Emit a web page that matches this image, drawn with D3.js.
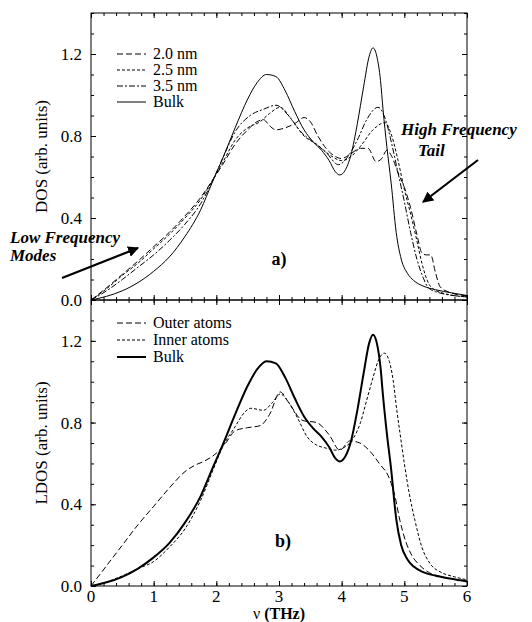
<!DOCTYPE html>
<html>
<head>
<meta charset="utf-8">
<script src="https://cdn.jsdelivr.net/npm/d3@7"></script>
<style>
  body { margin: 0; background: #fff; }
  svg { display: block; font-family: "Liberation Serif", "DejaVu Serif", serif; }
</style>
</head>
<body>
<script>
// frequency (THz) / density pairs
var bulk = [[0,0],[0.25,0.018],[0.5,0.045],[0.75,0.085],[1,0.14],[1.25,0.21],[1.5,0.31],[1.75,0.44],
  [1.93,0.57],[2.1,0.69],[2.3,0.84],[2.5,0.98],[2.65,1.06],[2.8,1.1],[2.95,1.09],[3.1,1.02],[3.25,0.92],
  [3.4,0.83],[3.55,0.77],[3.68,0.73],[3.8,0.68],[3.9,0.625],[3.97,0.61],[4.05,0.63],[4.15,0.71],
  [4.25,0.86],[4.35,1.04],[4.44,1.19],[4.5,1.23],[4.56,1.19],[4.62,1.07],[4.66,0.93],[4.72,0.75],
  [4.79,0.57],[4.87,0.33],[4.95,0.2],[5.05,0.13],[5.15,0.095],[5.3,0.068],[5.5,0.05],[5.75,0.035],[6,0.022]];

var dos20 = [[0,0],[0.25,0.06],[0.5,0.125],[0.75,0.19],[1,0.26],[1.25,0.33],[1.5,0.41],[1.75,0.5],
  [1.93,0.58],[2.1,0.66],[2.3,0.76],[2.5,0.83],[2.65,0.87],[2.75,0.88],[2.85,0.85],[2.95,0.83],
  [3.1,0.84],[3.25,0.86],[3.4,0.89],[3.5,0.87],[3.62,0.8],[3.75,0.74],[3.9,0.7],[4.0,0.69],[4.13,0.71],
  [4.3,0.74],[4.42,0.74],[4.55,0.675],[4.64,0.69],[4.72,0.73],[4.8,0.7],[4.9,0.62],[5.0,0.55],
  [5.1,0.45],[5.2,0.32],[5.28,0.23],[5.35,0.22],[5.42,0.22],[5.5,0.13],[5.57,0.065],[5.7,0.04],[6,0.02]];

var dos25 = [[0,0],[0.25,0.055],[0.5,0.12],[0.75,0.18],[1,0.25],[1.25,0.32],[1.5,0.4],[1.75,0.49],
  [1.93,0.58],[2.1,0.67],[2.3,0.78],[2.5,0.84],[2.7,0.87],[2.85,0.91],[3.02,0.94],[3.2,0.88],[3.4,0.8],
  [3.6,0.76],[3.8,0.71],[4.0,0.68],[4.15,0.7],[4.3,0.75],[4.5,0.83],[4.69,0.865],[4.8,0.8],[4.9,0.68],
  [5.0,0.54],[5.1,0.42],[5.2,0.29],[5.28,0.18],[5.36,0.1],[5.42,0.065],[5.6,0.035],[6,0.015]];

var dos35 = [[0,0],[0.25,0.045],[0.5,0.1],[0.75,0.16],[1,0.22],[1.25,0.29],[1.5,0.37],[1.75,0.47],
  [1.93,0.575],[2.1,0.69],[2.3,0.82],[2.54,0.9],[2.75,0.93],[2.95,0.95],[3.15,0.9],[3.35,0.82],
  [3.55,0.77],[3.75,0.72],[3.95,0.66],[4.1,0.7],[4.25,0.78],[4.4,0.88],[4.58,0.94],[4.7,0.88],
  [4.8,0.76],[4.9,0.62],[5.0,0.48],[5.1,0.33],[5.2,0.2],[5.3,0.11],[5.37,0.065],[5.5,0.04],[6,0.015]];

var outer = [[0,0],[0.25,0.1],[0.5,0.2],[0.75,0.3],[1,0.39],[1.25,0.48],[1.5,0.56],[1.65,0.59],
  [1.8,0.61],[2.0,0.65],[2.15,0.7],[2.3,0.76],[2.5,0.775],[2.7,0.785],[2.85,0.84],[3.02,0.95],
  [3.15,0.9],[3.38,0.81],[3.6,0.8],[3.8,0.74],[3.97,0.665],[4.13,0.71],[4.29,0.7],[4.45,0.66],
  [4.6,0.6],[4.77,0.52],[4.85,0.44],[4.93,0.32],[5.02,0.22],[5.12,0.15],[5.25,0.1],[5.4,0.065],
  [5.6,0.045],[6,0.025]];

var inner = [[0,0],[0.25,0.02],[0.5,0.05],[0.75,0.085],[1,0.12],[1.25,0.19],[1.5,0.28],[1.75,0.42],
  [1.95,0.57],[2.1,0.68],[2.3,0.78],[2.45,0.85],[2.55,0.87],[2.75,0.86],[2.9,0.9],[3.02,0.94],
  [3.15,0.9],[3.3,0.82],[3.45,0.73],[3.6,0.69],[3.75,0.675],[3.9,0.665],[4.05,0.68],[4.18,0.72],
  [4.3,0.8],[4.4,0.91],[4.5,1.02],[4.58,1.1],[4.68,1.14],[4.76,1.1],[4.82,1.01],[4.88,0.86],
  [4.93,0.75],[5.0,0.6],[5.08,0.45],[5.17,0.32],[5.28,0.19],[5.41,0.11],[5.6,0.065],[5.8,0.045],[6,0.03]];

var xTicks = [0, 1, 2, 3, 4, 5, 6];
var yTicks = [0, 0.4, 0.8, 1.2];
var legendA = ["2.0 nm", "2.5 nm", "3.5 nm", "Bulk"];
var legendB = ["Outer atoms", "Inner atoms", "Bulk"];

var width = 532, height = 622;
var svg = d3.select("body").append("svg")
    .attr("width", width)
    .attr("height", height);

var x = d3.scaleLinear().domain([0, 6]).range([91, 467]);

var dashes = {
    long: "6,3",
    short: "3,2",
    dashdot: "6,2,2,2",
    solid: null
};

// one panel = frame, ticks, labels, curves
function panel(top, bottom, ylabel, series, legend, tag, showX) {
    var y = d3.scaleLinear().domain([0, 1.4]).range([bottom, top]);
    var g = svg.append("g");

    var line = d3.line()
        .x(function(d) { return x(d[0]); })
        .y(function(d) { return y(d[1]); })
        .curve(d3.curveMonotoneX);

    // minor + major ticks, all pointing inward
    var xMinor = d3.range(0, 6.01, 0.2);
    var yMinor = d3.range(0, 1.41, 0.1);
    function ticks(axisFn, scale, translate, values, size) {
        g.append("g")
            .attr("transform", translate)
            .call(axisFn(scale).tickValues(values).tickSize(-size).tickFormat(""))
            .call(function(s) { s.select(".domain").remove(); })
            .selectAll("line").attr("stroke", "#000");
    }
    ticks(d3.axisBottom, x, "translate(0," + bottom + ")", xMinor, 3);
    ticks(d3.axisBottom, x, "translate(0," + bottom + ")", xTicks, 5);
    ticks(d3.axisTop, x, "translate(0," + top + ")", xMinor, 3);
    ticks(d3.axisTop, x, "translate(0," + top + ")", xTicks, 5);
    ticks(d3.axisLeft, y, "translate(" + x(0) + ",0)", yMinor, 3);
    ticks(d3.axisLeft, y, "translate(" + x(0) + ",0)", yTicks, 5);
    ticks(d3.axisRight, y, "translate(" + x(6) + ",0)", yMinor, 3);
    ticks(d3.axisRight, y, "translate(" + x(6) + ",0)", yTicks, 5);

    g.append("rect")
        .attr("x", x(0)).attr("y", top)
        .attr("width", x(6) - x(0)).attr("height", bottom - top)
        .attr("fill", "none").attr("stroke", "#000").attr("stroke-width", 1);

    g.selectAll(".ylab").data(yTicks).enter().append("text")
        .attr("x", 82)
        .attr("y", function(d) { return y(d); })
        .attr("dy", "0.35em")
        .attr("text-anchor", "end")
        .attr("font-size", 17)
        .text(function(d) { return d.toFixed(1); });

    if (showX) {
        g.selectAll(".xlab").data(xTicks).enter().append("text")
            .attr("x", function(d) { return x(d); })
            .attr("y", bottom + 16)
            .attr("text-anchor", "middle")
            .attr("font-size", 17)
            .text(function(d) { return d; });
    }

    g.append("text")
        .attr("transform", "translate(47," + ((top + bottom) / 2) + ") rotate(-90)")
        .attr("text-anchor", "middle")
        .attr("font-size", 17)
        .text(ylabel);

    series.forEach(function(s) {
        g.append("path")
            .datum(s.data)
            .attr("d", line)
            .attr("fill", "none")
            .attr("stroke", "#000")
            .attr("stroke-width", s.w)
            .attr("stroke-dasharray", dashes[s.dash]);
    });

    // legend
    legend.labels.forEach(function(lab, i) {
        var s = series[i], ly = legend.y0 + i * legend.step;
        g.append("line")
            .attr("x1", 117).attr("x2", 146)
            .attr("y1", ly).attr("y2", ly)
            .attr("stroke", "#000")
            .attr("stroke-width", s.w)
            .attr("stroke-dasharray", dashes[s.dash]);
        g.append("text")
            .attr("x", 153).attr("y", ly)
            .attr("dy", "0.33em")
            .attr("font-size", 16)
            .text(lab);
    });

    g.append("text")
        .attr("x", tag.x).attr("y", tag.y)
        .attr("text-anchor", "middle")
        .attr("font-size", 18)
        .attr("font-weight", "bold")
        .text(tag.t);
}

panel(13, 300, "DOS (arb. units)", [
    { data: dos20, dash: "long", w: 1 },
    { data: dos25, dash: "short", w: 1 },
    { data: dos35, dash: "dashdot", w: 1 },
    { data: bulk, dash: "solid", w: 1 }
], { labels: legendA, y0: 54, step: 16 }, { t: "a)", x: 279, y: 265 }, false);

panel(300, 586, "LDOS (arb. units)", [
    { data: outer, dash: "long", w: 1 },
    { data: inner, dash: "short", w: 1 },
    { data: bulk, dash: "solid", w: 2 }
], { labels: legendB, y0: 323, step: 17 }, { t: "b)", x: 283, y: 547 }, true);

// x axis title
var xt = svg.append("text")
    .attr("x", x(3)).attr("y", 619)
    .attr("text-anchor", "middle")
    .attr("font-size", 16);
xt.append("tspan").text("ν ");
xt.append("tspan").attr("font-weight", "bold").text("(THz)");

// annotations with arrows
svg.append("defs").append("marker")
    .attr("id", "head")
    .attr("viewBox", "0 0 10 10")
    .attr("refX", 9).attr("refY", 5)
    .attr("markerWidth", 5).attr("markerHeight", 5)
    .attr("orient", "auto")
    .append("path").attr("d", "M0,0 L10,5 L0,10 z").attr("fill", "#000");

function note(lines) {
    lines.forEach(function(l) {
        svg.append("text")
            .attr("x", l.x).attr("y", l.y)
            .attr("font-size", 17)
            .attr("font-weight", "bold")
            .attr("font-style", "italic")
            .text(l.t);
    });
}
note([{ t: "Low Frequency", x: 10, y: 243 }, { t: "Modes", x: 10, y: 261 }]);
note([{ t: "High Frequency", x: 401, y: 135 }, { t: "Tail", x: 418, y: 156 }]);

svg.append("line")
    .attr("x1", 62).attr("y1", 278).attr("x2", 138).attr("y2", 248)
    .attr("stroke", "#000").attr("stroke-width", 2.2)
    .attr("marker-end", "url(#head)");
svg.append("line")
    .attr("x1", 478).attr("y1", 160).attr("x2", 423).attr("y2", 202)
    .attr("stroke", "#000").attr("stroke-width", 2.2)
    .attr("marker-end", "url(#head)");
</script>
</body>
</html>
